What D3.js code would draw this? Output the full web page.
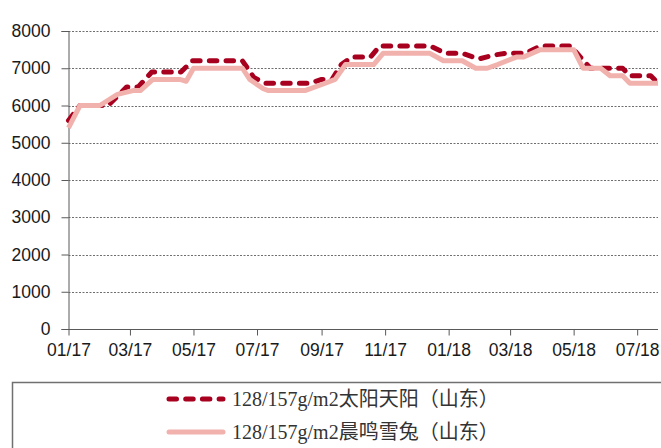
<!DOCTYPE html>
<html>
<head>
<meta charset="utf-8">
<script src="https://cdn.jsdelivr.net/npm/d3@7"></script>
<style>
  body { margin: 0; background: #fff; }
  svg { display: block; }
</style>
</head>
<body>
<script>
// series (breakpoints of each line)
const darkDates = ["2017-01-01","2017-01-12","2017-02-08","2017-02-26","2017-03-09","2017-03-22",
  "2017-04-19","2017-04-30","2017-06-17","2017-06-28","2017-07-09","2017-08-21","2017-09-01",
  "2017-09-11","2017-09-20","2017-09-30","2017-10-18","2017-10-27","2017-12-14","2017-12-29",
  "2018-01-14","2018-01-30","2018-02-13","2018-02-24","2018-03-16","2018-03-30","2018-04-28",
  "2018-05-17","2018-06-17","2018-06-24","2018-07-14","2018-07-21"];
const darkValues = [5600,6000,6000,6500,6500,6900,6900,7200,7200,6750,6600,6600,6700,
  6700,7100,7300,7300,7600,7600,7400,7400,7250,7350,7400,7400,7600,7600,
  7000,7000,6800,6800,6600];

const lightDates = ["2017-01-01","2017-01-12","2017-01-31","2017-02-17","2017-03-04","2017-03-11",
  "2017-03-23","2017-04-18","2017-04-24","2017-05-01","2017-06-17","2017-06-24","2017-07-07",
  "2017-07-12","2017-08-16","2017-08-31","2017-09-14","2017-09-24","2017-10-21","2017-10-30",
  "2017-12-14","2017-12-27","2018-01-14","2018-01-27","2018-02-07","2018-02-17","2018-03-07",
  "2018-03-14","2018-03-30","2018-05-01","2018-05-10","2018-05-27","2018-06-05","2018-06-17",
  "2018-06-24","2018-07-21"];
const lightValues = [5400,6000,6000,6300,6400,6400,6700,6700,6650,7000,7000,6700,6450,
  6400,6400,6550,6700,7100,7100,7400,7400,7200,7200,7000,7000,7100,7300,
  7300,7500,7500,7000,7000,6800,6800,6600,6600];

const yTicks = [0,1000,2000,3000,4000,5000,6000,7000,8000];
const xTickDates = ["2017-01-01","2017-03-01","2017-05-01","2017-07-01","2017-09-01","2017-11-01",
  "2018-01-01","2018-03-01","2018-05-01","2018-07-01"];
const seriesNames = ["128/157g/m2太阳天阳（山东）", "128/157g/m2晨鸣雪兔（山东）"];

const parse = d3.timeParse("%Y-%m-%d");
const dark = darkDates.map((d, i) => ({date: parse(d), v: darkValues[i]}));
const light = lightDates.map((d, i) => ({date: parse(d), v: lightValues[i]}));

const W = 661, H = 448;
const darkColor = "#A8001F", lightColor = "#F1B2AE";

const svg = d3.select("body").append("svg")
    .attr("width", W)
    .attr("height", H);

const x = d3.scaleTime()
    .domain([parse("2017-01-01"), parse("2018-07-21")])
    .range([68.5, 658]);

const y = d3.scaleLinear()
    .domain([0, 8000])
    .range([329, 31]);

// gridlines
svg.append("g")
    .selectAll("line")
    .data(yTicks.filter(d => d > 0))
    .join("line")
    .attr("x1", 68.5).attr("x2", 658)
    .attr("y1", d => Math.round(y(d)) + 0.5)
    .attr("y2", d => Math.round(y(d)) + 0.5)
    .attr("stroke", "#6e6e6e")
    .attr("stroke-width", 1)
    .attr("stroke-dasharray", "2,1.5");

// y axis
const yAxis = svg.append("g")
    .attr("transform", "translate(68.5,0)")
    .call(d3.axisLeft(y).tickValues(yTicks).tickSize(7).tickPadding(11).tickFormat(d3.format("d")));

// x axis
const xAxis = svg.append("g")
    .attr("transform", `translate(0,${Math.round(y(0)) + 0.5})`)
    .call(d3.axisBottom(x).tickValues(xTickDates.map(parse)).tickSize(6).tickPadding(8)
        .tickFormat(d3.timeFormat("%m/%y")));

[yAxis, xAxis].forEach(g => {
    g.select(".domain").attr("stroke", "#595959");
    g.selectAll(".tick line").attr("stroke", "#595959");
    g.selectAll("text")
        .attr("fill", "#1a1a1a")
        .style("font-family", "'Liberation Sans', Arial, sans-serif")
        .style("font-size", "17.5px");
});
xAxis.select(".domain").attr("d", `M68.5,0H658`);

// lines
const line = d3.line()
    .x(d => x(d.date))
    .y(d => y(d.v));

svg.append("path")
    .datum(dark)
    .attr("fill", "none")
    .attr("stroke", darkColor)
    .attr("stroke-width", 5)
    .attr("stroke-linecap", "round")
    .attr("stroke-linejoin", "round")
    .attr("stroke-dasharray", "7.5,9.2")
    .attr("d", line);

svg.append("path")
    .datum(light)
    .attr("fill", "none")
    .attr("stroke", lightColor)
    .attr("stroke-width", 5)
    .attr("stroke-linejoin", "round")
    .attr("d", line);

// legend box
svg.append("rect")
    .attr("x", 12.5).attr("y", 382.5)
    .attr("width", 680).attr("height", 100)
    .attr("fill", "none")
    .attr("stroke", "#707070")
    .attr("stroke-width", 1.5);

const legend = svg.append("g");
const rows = [
    {name: seriesNames[0], color: darkColor, dash: "7.5,9.2", cy: 399},
    {name: seriesNames[1], color: lightColor, dash: null, cy: 432}
];
rows.forEach(r => {
    legend.append("line")
        .attr("x1", 169).attr("x2", 223)
        .attr("y1", r.cy).attr("y2", r.cy)
        .attr("stroke", r.color)
        .attr("stroke-width", 5)
        .attr("stroke-linecap", "round")
        .attr("stroke-dasharray", r.dash);
    legend.append("text")
        .attr("x", 232).attr("y", r.cy + 7)
        .attr("fill", "#333")
        .style("font-family", "'Liberation Serif', 'Noto Sans CJK SC', serif")
        .style("font-size", "20px")
        .text(r.name);
});
</script>
</body>
</html>
